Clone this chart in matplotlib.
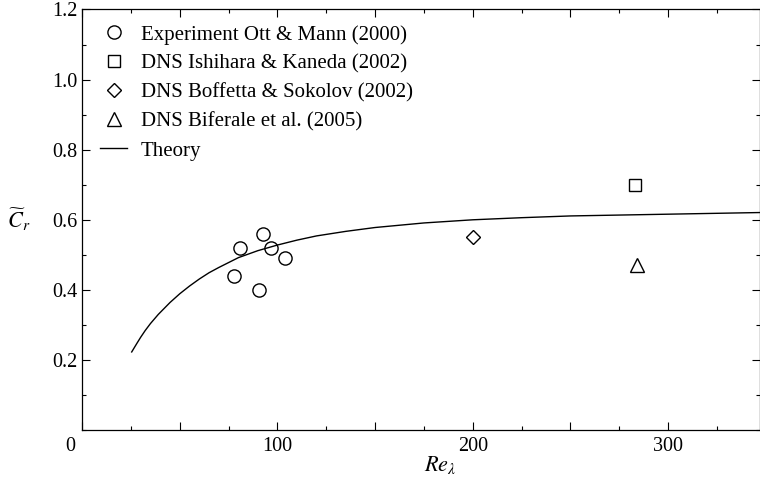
import matplotlib
matplotlib.use("Agg")
import matplotlib.pyplot as plt
import matplotlib.transforms as mtransforms
from matplotlib.ticker import MultipleLocator, FixedLocator, FuncFormatter

plt.rcParams['font.family'] = ['Liberation Serif', 'DejaVu Serif']
plt.rcParams['mathtext.fontset'] = 'stix'

# Data
ott_re = [77.7, 80.9, 90.8, 92.7, 96.8, 103.8]
ott_c = [0.44, 0.52, 0.40, 0.56, 0.52, 0.49]
ishihara_re = [283]
ishihara_c = [0.70]
boffetta_re = [200]
boffetta_c = [0.55]
biferale_re = [284]
biferale_c = [0.47]
theory_re = [25.4, 28, 30, 32.3, 35, 39, 45, 50, 55, 60, 65, 70, 80, 90, 100,
             110, 120, 135, 150, 175, 200, 225, 250, 300, 350]
theory_c = [0.223, 0.247, 0.265, 0.284, 0.304, 0.330, 0.364, 0.389, 0.411,
            0.431, 0.449, 0.464, 0.492, 0.512, 0.528, 0.542, 0.554, 0.567,
            0.578, 0.591, 0.600, 0.606, 0.611, 0.616, 0.621]

fig = plt.figure(figsize=(7.6, 4.86), dpi=100)
ax = fig.add_axes([0.108, 0.115, 0.892, 0.8655])

ax.plot(ott_re, ott_c, 'o', ms=9.5, mfc='none', mec='black', mew=1.0,
        label='Experiment Ott & Mann (2000)')
ax.plot(ishihara_re, ishihara_c, 's', ms=8.5, mfc='none', mec='black', mew=1.0,
        label='DNS Ishihara & Kaneda (2002)')
ax.plot(boffetta_re, boffetta_c, 'D', ms=7.5, mfc='none', mec='black', mew=1.0,
        label='DNS Boffetta & Sokolov (2002)')
ax.plot(biferale_re, biferale_c, '^', ms=10, mfc='none', mec='black', mew=1.0,
        label='DNS Biferale et al. (2005)')
ax.plot(theory_re, theory_c, '-', color='black', lw=1.0, label='Theory')

ax.set_xlim(0, 347)
ax.set_ylim(0, 1.2)

ax.xaxis.set_major_locator(MultipleLocator(50))
ax.xaxis.set_minor_locator(MultipleLocator(25))
ax.xaxis.set_major_formatter(FuncFormatter(lambda v, p: f"{int(round(v))}" if round(v) % 100 == 0 else ""))
ax.yaxis.set_major_locator(FixedLocator([0.2, 0.4, 0.6, 0.8, 1.0, 1.2]))
ax.yaxis.set_minor_locator(MultipleLocator(0.1))
ax.yaxis.set_major_formatter(FuncFormatter(lambda v, p: f"{v:.1f}"))

ax.tick_params(which='both', direction='in', top=True, right=True, labelsize=14.5, width=0.8)
ax.tick_params(which='major', length=6)
ax.tick_params(which='minor', length=3)
ax.tick_params(axis='x', pad=5)
for s in ax.spines.values():
    s.set_linewidth(0.9)

fig.canvas.draw()
for lab in ax.get_xticklabels():
    if lab.get_text() == '0':
        lab.set_transform(lab.get_transform() + mtransforms.ScaledTranslation(-12/100, 0, fig.dpi_scale_trans))

ax.set_xlabel(r'$Re_\lambda$', fontsize=16)
ax.xaxis.set_label_coords(0.528, -0.083)
ax.xaxis.label.set_va('center')
ax.set_ylabel(r'$\widetilde{C}_r$', fontsize=16, rotation=0, va='center')
ax.yaxis.set_label_coords(-0.093, 0.5)

ax.legend(loc='upper left', frameon=False, fontsize=15, handlelength=1.3,
          handletextpad=0.67, labelspacing=0.45, borderaxespad=0.0, borderpad=0.0,
          bbox_to_anchor=(0.0265, 0.963))

fig.savefig('out.png', dpi=100)
